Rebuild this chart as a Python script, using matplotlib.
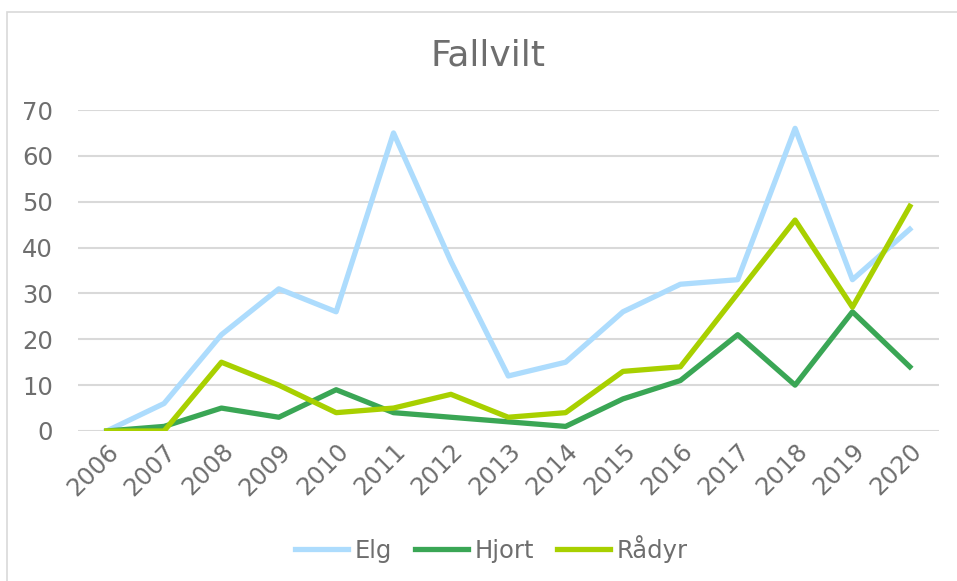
import matplotlib.pyplot as plt
from matplotlib.patches import Rectangle

years = ['2006', '2007', '2008', '2009', '2010', '2011', '2012', '2013',
         '2014', '2015', '2016', '2017', '2018', '2019', '2020']
elg = [0, 6, 21, 31, 26, 65, 37, 12, 15, 26, 32, 33, 66, 33, 44]
hjort = [0, 1, 5, 3, 9, 4, 3, 2, 1, 7, 11, 21, 10, 26, 14]
radyr = [0, 0, 15, 10, 4, 5, 8, 3, 4, 13, 14, 30, 46, 27, 49]

W, H = 957, 581
txt = '#6e6e6e'
fs = 17.5
fig = plt.figure(figsize=(W / 100, H / 100), dpi=100)
fig.patches.append(Rectangle((7 / W, -0.1), 1.2, 1.1 - 12 / H, transform=fig.transFigure,
                             fill=False, edgecolor='#d9d9d9', linewidth=1.2))

ax = fig.add_axes([78 / W, 1 - 431 / H, (938.5 - 78) / W, (431 - 110) / H])
x = range(len(years))
lw = 3.8
ax.plot(x, elg, color='#addcfd', lw=lw, label='Elg', solid_joinstyle='round')
ax.plot(x, hjort, color='#3aa655', lw=lw, label='Hjort', solid_joinstyle='round')
ax.plot(x, radyr, color='#a8d000', lw=lw, label='Rådyr', solid_joinstyle='round')

ax.set_xlim(-0.5, len(years) - 0.5)
ax.set_ylim(0, 70)
ax.set_yticks(range(0, 71, 10))
ax.set_xticks(list(x))
ax.set_xticklabels(years, rotation=45, ha='right', rotation_mode='anchor')
ax.grid(axis='y', color='#d9d9d9', lw=1.5)
ax.set_axisbelow(True)
for s in ax.spines.values():
    s.set_visible(False)
ax.tick_params(length=0, labelsize=fs, colors=txt)
ax.tick_params(axis='y', pad=18)
ax.tick_params(axis='x', pad=6)

fig.text(488 / W, 1 - 56 / H, 'Fallvilt', ha='center', va='center', fontsize=26, color=txt)
fig.legend(loc='center', bbox_to_anchor=(491 / W, 1 - 549 / H), ncol=3, frameon=False,
           fontsize=fs, labelcolor=txt, handlelength=2.2, columnspacing=0.95, handletextpad=0.25)

fig.savefig('out.png', dpi=100)
